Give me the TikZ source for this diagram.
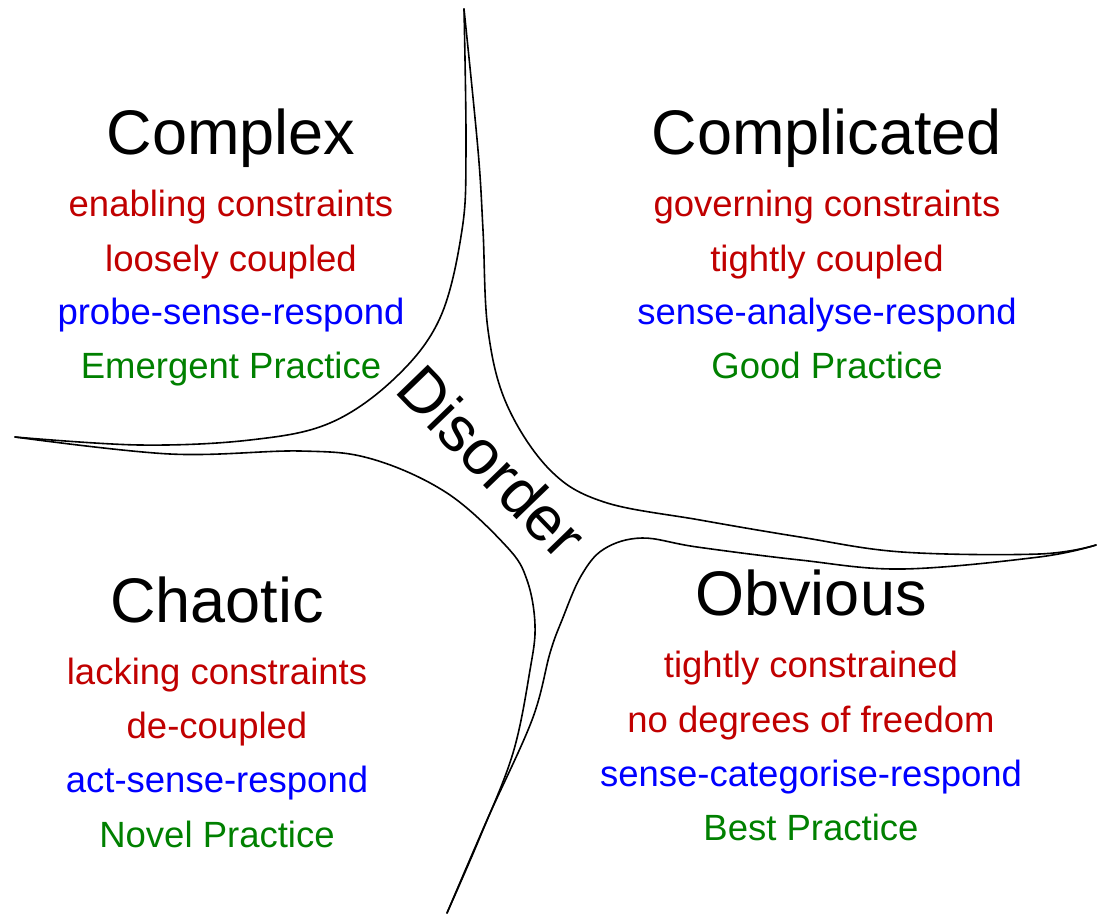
\documentclass[tikz,border=0pt]{standalone}
\usepackage{fontspec}
\setmainfont{Liberation Sans}
\definecolor{cred}{RGB}{192,0,0}
\definecolor{cblue}{RGB}{0,0,255}
\definecolor{cgreen}{RGB}{0,128,0}
\tikzset{
  border/.style={line width=1.6pt, black, line join=round, line cap=round},
  title/.style={anchor=base, inner sep=0pt, font=\fontsize{63}{70}\selectfont},
  body/.style={anchor=base, inner sep=0pt, font=\fontsize{36.5}{40}\selectfont},
}
\begin{document}
\begin{tikzpicture}[x=1pt,y=-1pt]
\useasboundingbox (0,0) rectangle (1097,914);
% Complex boundary
\draw[border] plot[smooth, tension=0.6] coordinates {(464,9) (466,150) (462,230) (440,318) (395,378) (330,423) (250,440) (140,445) (15,437)};
% Complicated boundary
\draw[border] plot[smooth, tension=0.6] coordinates {(464,9) (478,150) (483,230) (488,330) (507,405) (550,470) (604,502) (700,520) (800,537) (902,552) (1039,554) (1096,545)};
% Obvious boundary
\draw[border] plot[smooth, tension=0.6] coordinates {(1096,545) (1039,557) (902,569) (800,560) (697,547) (642,538) (604,549) (581,576) (562,620) (550,653) (532,720) (487,820) (447,913)};
% Chaotic boundary
\draw[border] plot[smooth, tension=0.6] coordinates {(15,437) (170,454) (300,451) (372,459) (447,493) (507,547) (527,580) (535,625) (530,670) (513,753) (480,837) (447,913)};

\node[title] (complex) at (231,154) {Complex};
\node[body, cred] (c1) at (231,216) {enabling constraints};
\node[body, cred] (c2) at (231,271) {loosely coupled};
\node[body, cblue] (c3) at (231,324) {probe-sense-respond};
\node[body, cgreen] (c4) at (231,378) {Emergent Practice};

\node[title] (complicated) at (827,154) {Complicated};
\node[body, cred] (k1) at (827,216) {governing constraints};
\node[body, cred] (k2) at (827,271) {tightly coupled};
\node[body, cblue] (k3) at (827,324) {sense-analyse-respond};
\node[body, cgreen] (k4) at (827,378) {Good Practice};

\node[title] (chaotic) at (217,622) {Chaotic};
\node[body, cred] (h1) at (217,684) {lacking constraints};
\node[body, cred] (h2) at (217,738) {de-coupled};
\node[body, cblue] (h3) at (217,792) {act-sense-respond};
\node[body, cgreen] (h4) at (217,847) {Novel Practice};

\node[title] (obvious) at (811,615) {Obvious};
\node[body, cred] (o1) at (811,677) {tightly constrained};
\node[body, cred] (o2) at (811,732) {no degrees of freedom};
\node[body, cblue] (o3) at (811,786) {sense-categorise-respond};
\node[body, cgreen] (o4) at (811,840) {Best Practice};

\node[title, rotate=-46] (disorder) at (476,477) {Disorder};
\end{tikzpicture}
\end{document}
